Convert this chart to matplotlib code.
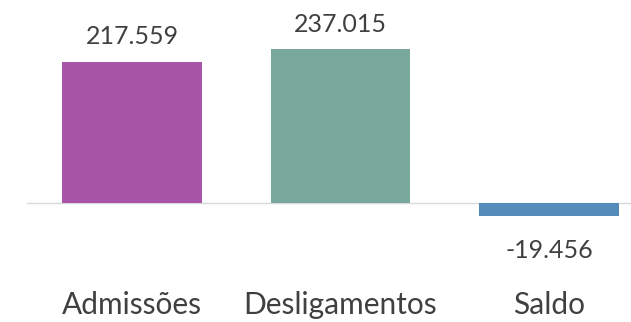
import matplotlib.pyplot as plt

categorias = ['Admissões', 'Desligamentos', 'Saldo']
valores = [217559, 237015, -19456]
rotulos = ['217.559', '237.015', '-19.456']
cores = ['#A855A8', '#7BA89D', '#558BBA']

plt.rcParams['font.family'] = ['Lato', 'DejaVu Sans']

fig = plt.figure(figsize=(6.31, 3.22), dpi=100)
ax = fig.add_axes([0, 0, 1, 1])

x = range(len(categorias))
barras = ax.bar(x, valores, width=0.671, color=cores, zorder=2)

ax.set_xlim(-0.633, 2.393)
ax.set_ylim(-183600, 313200)
ax.axhline(0, xmin=27 / 631, xmax=1, color='#D9D9D9', linewidth=1, zorder=1)

for b, v, r in zip(barras, valores, rotulos):
    dy = 18 if v >= 0 else -25
    ax.annotate(r, (b.get_x() + b.get_width() / 2, v), xytext=(0, dy),
                textcoords='offset points', ha='center', va='center',
                fontsize=18, color='#404040')

# rótulos das categorias no rodapé
for i, c in zip(x, categorias):
    ax.text(i, 3 / 322, c, transform=ax.get_xaxis_transform(),
            ha='center', va='bottom', fontsize=21.5, color='#404040')

ax.axis('off')
fig.savefig('out.png', dpi=100)
